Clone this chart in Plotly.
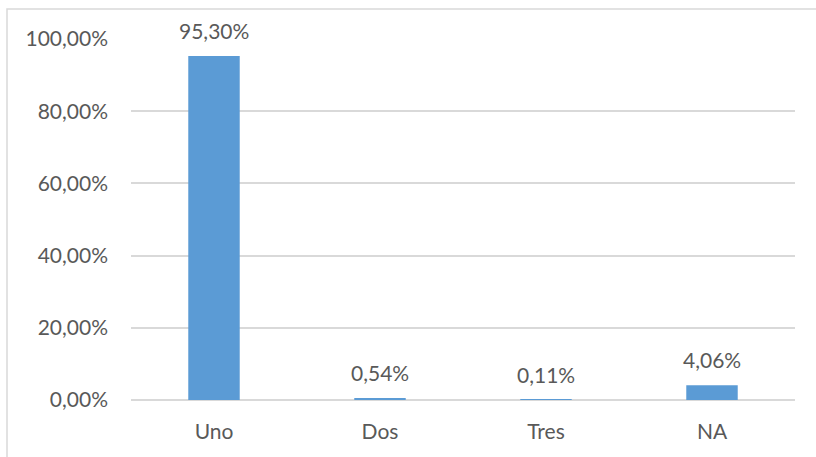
import plotly.graph_objects as go

categories = ["Uno", "Dos", "Tres", "NA"]
values = [0.9530, 0.0054, 0.0011, 0.0406]
y_ticks = [0, 0.2, 0.4, 0.6, 0.8, 1.0]

font_family = "Lato, 'Open Sans', sans-serif"
text_color = "#595959"
grid_color = "#D9D9D9"

labels = [f"{v*100:.2f}%".replace(".", ",") for v in values]

fig = go.Figure(
    go.Bar(
        x=categories,
        y=values,
        marker=dict(color="#5B9BD5", line=dict(width=0)),
        hoverinfo="x+y",
    )
)

annotations = [
    dict(
        x=c,
        y=v,
        xref="x",
        yref="y",
        text=t,
        showarrow=False,
        yanchor="bottom",
        yshift=11,
        font=dict(family=font_family, size=21, color=text_color),
    )
    for c, v, t in zip(categories, values, labels)
]

fig.update_layout(
    width=816,
    height=457,
    margin=dict(l=131, r=21, t=39, b=57),
    paper_bgcolor="white",
    plot_bgcolor="white",
    separators=",.",
    bargap=0.69,
    showlegend=False,
    font=dict(family=font_family, size=21, color=text_color),
    xaxis=dict(
        showgrid=False,
        showline=False,
        ticks="",
        tickfont=dict(family=font_family, size=21, color=text_color),
        ticklabelstandoff=17,
    ),
    yaxis=dict(
        range=[0, 1.0],
        tickvals=y_ticks,
        tickformat=".2%",
        showgrid=True,
        gridcolor=grid_color,
        gridwidth=1.5,
        zeroline=True,
        zerolinecolor=grid_color,
        zerolinewidth=1.5,
        showline=False,
        ticks="",
        ticklabelstandoff=22,
        tickfont=dict(family=font_family, size=21, color=text_color),
    ),
    annotations=annotations,
    shapes=[
        dict(
            type="rect",
            xref="paper",
            yref="paper",
            x0=(7 - 131) / 664,
            x1=1.2,
            y0=-0.4,
            y1=(400 - 9) / 361,
            line=dict(color=grid_color, width=1.5),
            fillcolor="rgba(0,0,0,0)",
            layer="below",
        )
    ],
)

fig.write_html(
    "out.html",
    config={"displayModeBar": False},
    post_script="document.body.style.margin='0';document.body.style.padding='0';",
)
